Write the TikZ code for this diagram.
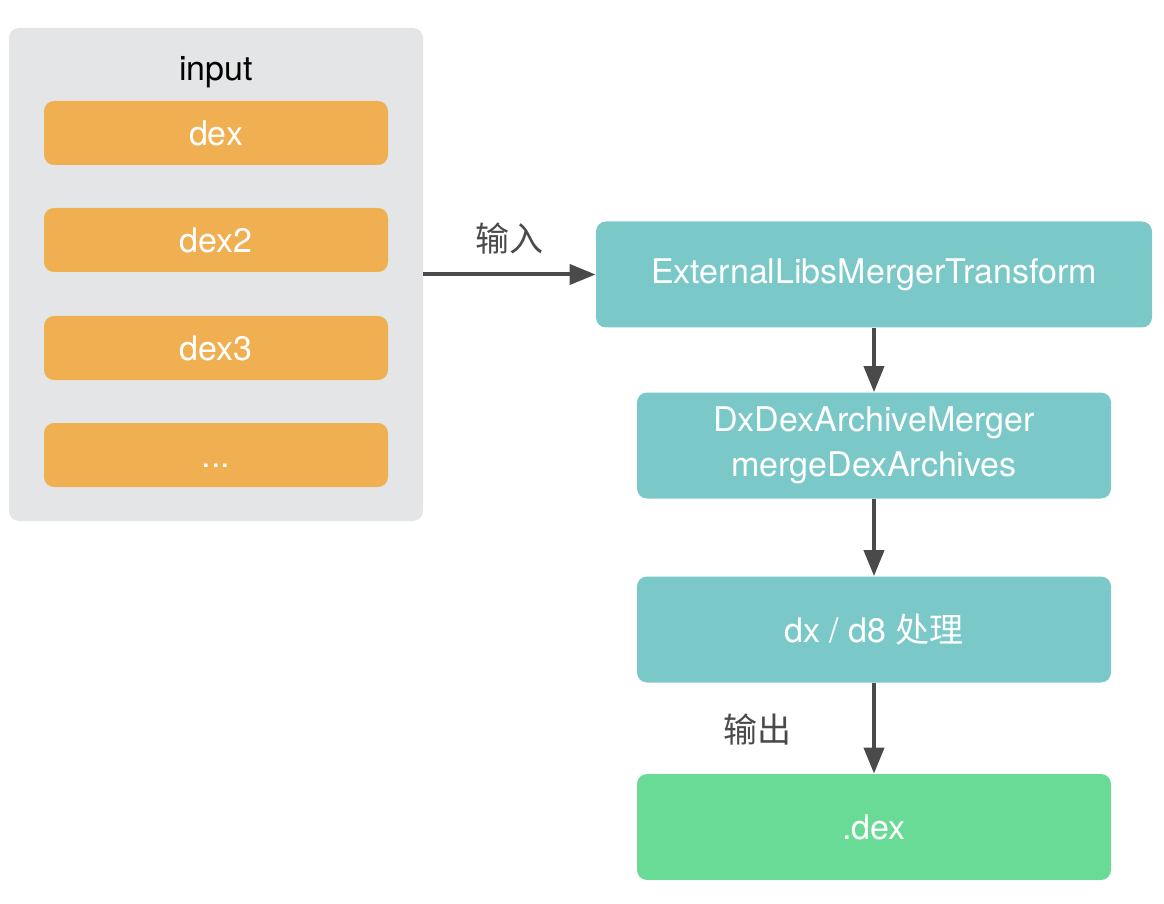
\documentclass[tikz,border=0pt]{standalone}
\usepackage{fontspec}
\setmainfont{TeX Gyre Heros}
\newfontfamily\cjk{Noto Sans CJK SC}
\usetikzlibrary{arrows.meta}
\tikzset{>={Triangle[length=13pt,width=10pt]}}
\definecolor{panelgray}{HTML}{E4E5E6}
\definecolor{dexorange}{HTML}{F0AF51}
\definecolor{stepteal}{HTML}{7BC8C8}
\definecolor{outgreen}{HTML}{6ADB96}
\definecolor{arrowgray}{HTML}{4A4A4A}
\tikzset{
  panel/.style={fill=panelgray, rounded corners=5pt, minimum width=207pt, minimum height=246.5pt},
  dexbox/.style={fill=dexorange, rounded corners=5pt, minimum width=172pt, minimum height=32pt, text=white},
  stepbox/.style={fill=stepteal, rounded corners=5pt, minimum height=53pt, text=white, align=center},
  outbox/.style={fill=outgreen, rounded corners=5pt, minimum width=237pt, minimum height=53pt, text=white},
  flow/.style={->, line width=2pt, draw=arrowgray}
}

\begin{document}
\begin{tikzpicture}[x=0.5pt, y=-0.5pt, font=\fontsize{17}{22.5}\selectfont]
	\useasboundingbox (0,0) rectangle (1164,904);
	\node [panel] (input) at (216, 274.5) {};
	\node at (216, 72) {input};
	\node [dexbox] (dex1) at (216, 133) {dex};
	\node [dexbox] (dex2) at (216, 240) {dex2};
	\node [dexbox] (dex3) at (216, 348) {dex3};
	\node [dexbox, text height=12pt, text depth=0pt] (dexn) at (216, 455) {...};
	\node [stepbox, minimum width=278pt] (merger) at (874, 274.5) {ExternalLibsMergerTransform};
	\node [stepbox, minimum width=237pt] (archive) at (874, 445.5) {DxDexArchiveMerger\\mergeDexArchives};
	\node [stepbox, minimum width=237pt] (dx) at (874, 629.5) {dx / d8 {\cjk 处理}};
	\node [outbox] (out) at (874, 827) {.dex};
	\draw [flow] (input.east |- merger.west) -- (merger.west) node [midway, above=6pt, text=arrowgray] {\cjk 输入};
	\draw [flow] (merger) -- (archive);
	\draw [flow] (archive) -- (dx);
	\draw [flow] (dx) -- (out);
	\node [text=arrowgray] at (757, 730) {\cjk 输出};
\end{tikzpicture}
\end{document}
